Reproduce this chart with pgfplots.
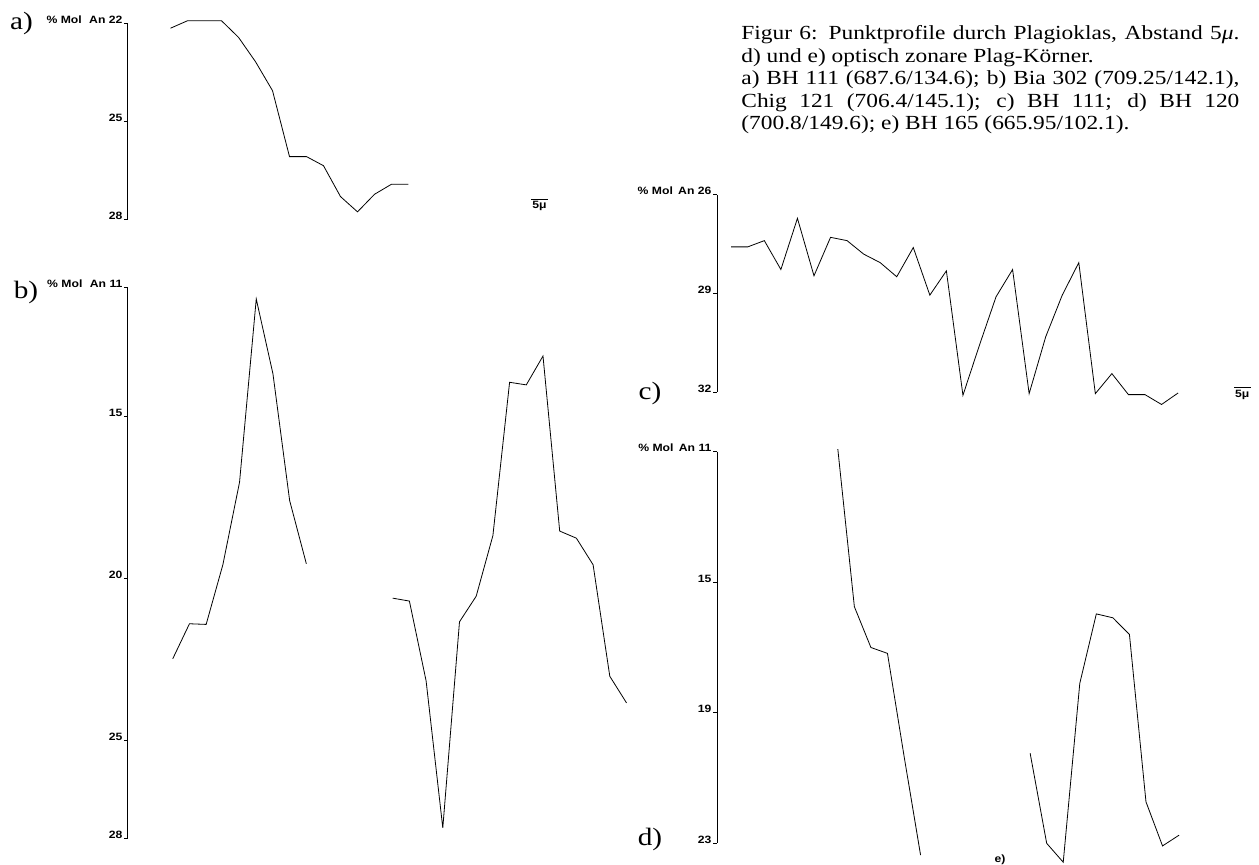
\documentclass[border=0pt]{standalone}
\usepackage{fontspec}
\usepackage{pgfplots}
\pgfplotsset{compat=1.18}
\newfontfamily\capfont[FakeStretch=1.17]{Liberation Serif}
\newfontfamily\labfont[FakeStretch=1.15]{Liberation Sans}
\newcommand\lab{\labfont\bfseries\fontsize{5.3}{6}\selectfont}
\newcommand\plab{\capfont\fontsize{12.5}{14}\selectfont}
\newcommand\captext{\capfont\fontsize{10}{11.25}\selectfont}

\pgfplotstableread{
x y
12.5 22.13
17.5 21.90
22.5 21.90
27.5 21.90
32.5 22.41
37.5 23.16
42.5 24.05
47.5 26.08
52.5 26.08
57.5 26.36
62.5 27.31
67.5 27.78
72.5 27.24
77.5 26.93
82.5 26.93
}\profA

\pgfplotstableread{
x y
13.4 22.47
18.4 21.39
23.4 21.41
28.4 19.57
33.4 17.02
38.4 11.37
43.4 13.68
48.4 17.59
53.4 19.54
}\profBone

\pgfplotstableread{
x y
79.25 20.60
84.25 20.69
89.25 23.15
94.25 27.69
99.25 21.33
104.25 20.54
109.25 18.67
114.25 13.94
119.25 14.02
124.25 13.13
129.25 18.53
134.25 18.75
139.25 19.57
144.25 23.01
149.25 23.83
}\profBtwo

\pgfplotstableread{
x y
4.3 27.58
9.3 27.58
14.3 27.39
19.3 28.27
24.3 26.71
29.3 28.46
34.3 27.29
39.3 27.39
44.3 27.80
49.3 28.06
54.3 28.49
59.3 27.60
64.3 29.05
69.3 28.31
74.3 32.10
79.3 30.57
84.3 29.10
89.3 28.27
94.3 32.05
99.3 30.32
104.3 29.05
109.3 28.06
114.3 32.05
119.3 31.44
124.3 32.08
129.3 32.08
134.3 32.38
139.3 32.03
}\profC

\pgfplotstableread{
x y
36.5 10.92
41.5 15.75
46.5 17.00
51.5 17.18
56.5 20.32
61.5 23.36
}\profD

\pgfplotstableread{
x y
94.6 20.24
99.6 23.00
104.6 23.58
109.6 18.10
114.6 15.97
119.6 16.09
124.6 16.60
129.6 21.73
134.6 23.08
139.6 22.75
}\profE

\pgfplotsset{
  prof/.style={
    scale only axis, clip=false,
    axis x line=none, axis y line*=left,
    y dir=reverse, xmin=0,
    tick align=outside, major tick length=2pt,
    ytick pos=left, minor tick num=0,
    axis line style={line width=0.5pt, black},
    every tick/.style={line width=0.5pt, black},
    yticklabel style={font=\lab, anchor=base east, inner sep=0pt, xshift=-0.6pt},
    cycle list={{black, no markers, line width=0.55pt}},
  }
}

\begin{document}
\begin{tikzpicture}
\useasboundingbox (0,0) rectangle (629.5pt,-432.5pt);

% panel a
\begin{axis}[prof, at={(64pt,-12pt)}, anchor=north west,
  width=144.5pt, height=97.5pt, xmax=85, ymin=22, ymax=28,
  ytick={22,25,28}, yticklabels={{\% Mol\hspace{0.7em}An 22},25,28}]
  \addplot table[x=x,y=y] {\profA};
  \draw[line width=0.5pt] (axis cs:118.5,27.39) -- (axis cs:123.5,27.39);
  \node[font=\lab, below, inner sep=0.8pt] at (axis cs:121,27.39) {5μ};
\end{axis}

% panel b
\begin{axis}[prof, at={(64pt,-143.5pt)}, anchor=north west,
  width=250.5pt, height=275.5pt, xmax=150, ymin=11, ymax=28,
  ytick={11,15,20,25,28}, yticklabels={{\% Mol\hspace{0.7em}An 11},15,20,25,28}]
  \addplot table[x=x,y=y] {\profBone};
  \addplot table[x=x,y=y] {\profBtwo};
\end{axis}

% panel c
\begin{axis}[prof, at={(358.5pt,-97.5pt)}, anchor=north west,
  width=231.7pt, height=98.5pt, xmax=140, ymin=26, ymax=32,
  ytick={26,29,32}, yticklabels={{\% Mol\hspace{0.5em}An 26},29,32}]
  \addplot table[x=x,y=y] {\profC};
  \draw[line width=0.5pt] (axis cs:156.2,31.87) -- (axis cs:161.2,31.87);
  \node[font=\lab, below, inner sep=0.8pt] at (axis cs:158.7,31.87) {5μ};
\end{axis}

% panel d / e
\begin{axis}[prof, at={(358.5pt,-225.85pt)}, anchor=north west,
  width=231.7pt, height=195.8pt, xmax=140, ymin=11, ymax=23,
  ytick={11,15,19,23}, yticklabels={{\% Mol\hspace{0.5em}An 11},15,19,23}]
  \addplot table[x=x,y=y] {\profD};
  \addplot table[x=x,y=y] {\profE};
  \node[font=\lab, inner sep=0pt] at (axis cs:85.5,23.51) {e)};
\end{axis}

% panel letters
\node[font=\plab] at (10.75pt,-11.5pt) {a)};
\node[font=\plab] at (13pt,-146pt) {b)};
\node[font=\plab] at (325pt,-196.5pt) {c)};
\node[font=\plab] at (325pt,-419.5pt) {d)};

% caption
\node[font=\captext, anchor=base west, inner sep=0pt] at (370.5pt,-20pt)
  {\makebox[249pt][s]{Figur 6: Punktprofile durch Plagioklas, Abstand 5{\itshape μ}.}};
\node[font=\captext, anchor=base west, inner sep=0pt] at (370.5pt,-31.25pt)
  {d) und e) optisch zonare Plag-Körner.};
\node[font=\captext, anchor=base west, inner sep=0pt] at (370.5pt,-42.5pt)
  {\makebox[249pt][s]{a) BH 111 (687.6/134.6); b) Bia 302 (709.25/142.1),}};
\node[font=\captext, anchor=base west, inner sep=0pt] at (370.5pt,-53.75pt)
  {\makebox[249pt][s]{Chig 121 (706.4/145.1); c) BH 111; d) BH 120}};
\node[font=\captext, anchor=base west, inner sep=0pt] at (370.5pt,-65pt)
  {(700.8/149.6); e) BH 165 (665.95/102.1).};
\end{tikzpicture}
\end{document}
